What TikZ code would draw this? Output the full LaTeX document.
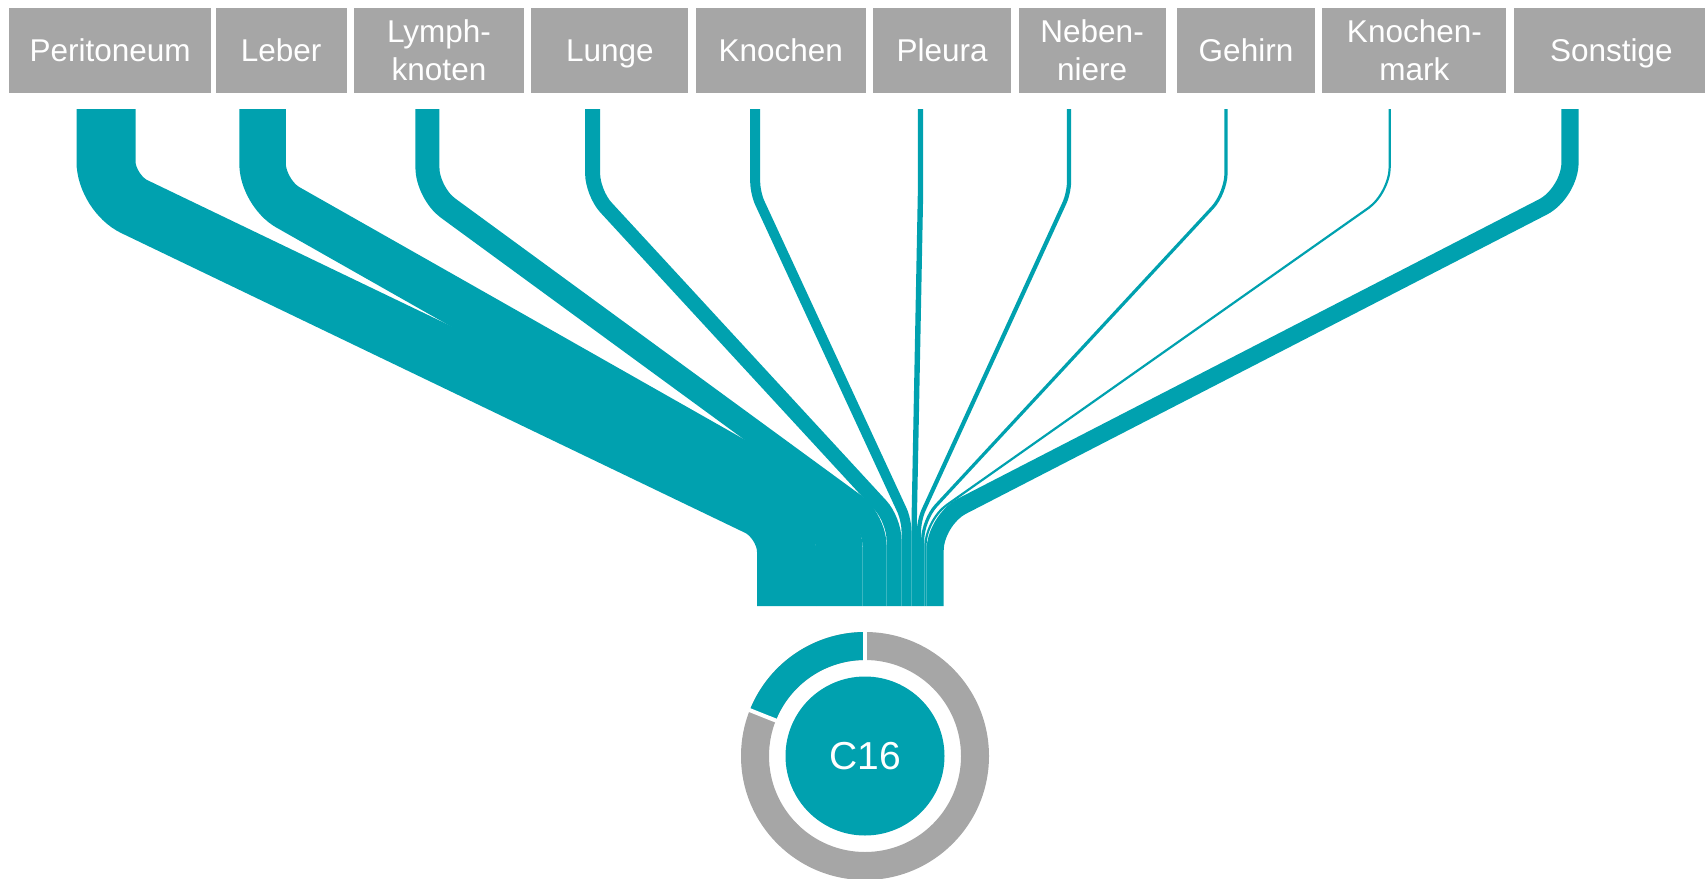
\documentclass[tikz,border=0pt]{standalone}
\usepackage{fontspec}
\setmainfont{Liberation Sans}
\usetikzlibrary{positioning}

\definecolor{flowteal}{RGB}{0,161,175}
\definecolor{boxgray}{RGB}{166,166,166}

\begin{document}
\begin{tikzpicture}[
    x=1pt, y=-1pt, node distance=7pt,
    organ/.style={fill=boxgray, text=white, inner sep=0pt, minimum height=85pt,
        align=center, font=\fontsize{31.5}{38.5}\selectfont},
    flow/.style={draw=flowteal, line width=#1pt}
]
    \useasboundingbox (0,0) rectangle (1705,878);

    % Metastasis sites
    \node[organ, minimum width=202pt, anchor=north west] (peri) at (9,7.6) {Peritoneum};
    \node[organ, minimum width=131pt, right=4pt of peri] (leber) {Leber};
    \node[organ, minimum width=170pt, right=of leber] (lymph) {Lymph-\\knoten};
    \node[organ, minimum width=157pt, right=of lymph, text depth=0pt] (lunge) {Lunge};
    \node[organ, minimum width=170pt, right=of lunge] (knochen) {Knochen};
    \node[organ, minimum width=138pt, right=of knochen] (pleura) {Pleura};
    \node[organ, minimum width=147pt, right=of pleura] (neben) {Neben-\\niere};
    \node[organ, minimum width=138pt, right=11pt of neben] (gehirn) {Gehirn};
    \node[organ, minimum width=184pt, right=of gehirn] (kmark) {Knochen-\\mark};
    \node[organ, minimum width=195pt, right=of kmark, text depth=0pt] (sonst) {Sonstige};

    % Flows (name / top x / bottom x / width), bends of radius 50
    \foreach \n/\xt/\xb/\w in {
        peri/106/786.5/59, leber/262.6/839.3/46.5, lymph/427.4/874.5/24,
        lunge/592.6/894/15, knochen/755.2/906.5/10, pleura/920.5/914.2/5.4,
        neben/1069/919/4.2, gehirn/1226/922.7/3.2, kmark/1389.7/925.4/2.2,
        sonst/1570/935.1/17.2}
    {
        \pgfmathsetmacro\cut{max(0.2, 50*tan(atan(abs(\xb-\xt)/327)/2))}
        \coordinate (\n-in) at (\xt,109);
        \coordinate (\n-out) at (\xb,606);
        \draw[flow=\w, rounded corners=\cut pt] (\n-in) -- (\xt,193) -- (\xb,520) -- (\n-out);
    }

    % Donut with C16
    \node[circle, fill=flowteal, text=white, minimum size=159pt, inner sep=0pt,
        font=\fontsize{39}{39}\selectfont] (c16) at (865,756) {C16};
    \fill[boxgray, even odd rule] (c16.center) circle[radius=124pt] circle[radius=96pt];
    \fill[flowteal] ([shift={(90:124pt)}]c16.center) arc[start angle=90, end angle=158.3, radius=124pt]
        -- ([shift={(158.3:96pt)}]c16.center) arc[start angle=158.3, end angle=90, radius=96pt] -- cycle;
    \foreach \a in {90, 158.3}
        \draw[white, line width=4pt] ([shift={(\a:94pt)}]c16.center) -- ([shift={(\a:126pt)}]c16.center);

\end{tikzpicture}
\end{document}
